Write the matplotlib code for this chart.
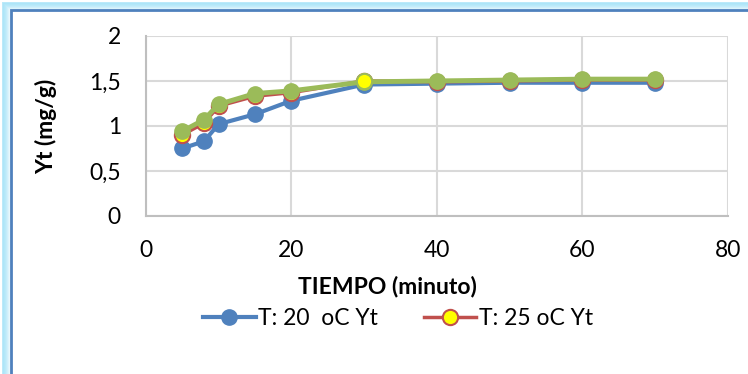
import matplotlib
matplotlib.use("Agg")
import matplotlib.pyplot as plt
from matplotlib.patches import Rectangle

plt.rcParams['font.family'] = ['Lato', 'DejaVu Sans']

# tiempo en minutos y capacidad de adsorcion Yt (mg/g)
tiempo = [5, 8, 10, 15, 20, 30, 40, 50, 60, 70]
yt_20 = [0.75, 0.83, 1.02, 1.13, 1.28, 1.46, 1.47, 1.48, 1.48, 1.48]
yt_25 = [0.90, 1.03, 1.22, 1.33, 1.37, 1.50, 1.49, 1.50, 1.51, 1.51]
yt_30 = [0.94, 1.07, 1.24, 1.36, 1.39, 1.49, 1.50, 1.51, 1.52, 1.52]

x_ticks = [0, 20, 40, 60, 80]
y_ticks = [0, 0.5, 1, 1.5, 2]
y_labels = ['0', '0,5', '1', '1,5', '2']

fig = plt.figure(figsize=(7.48, 3.74), dpi=100)
ax = fig.add_axes([0.195, 0.4225, 0.778, 0.4815])

ax.plot(tiempo, yt_20, color='#4F81BD', lw=3, marker='o', ms=11,
        mfc='#4F81BD', mec='#4F81BD', label='T: 20  oC Yt', zorder=3)
ax.plot(tiempo, yt_25, color='#C0504D', lw=2.5, marker='o', ms=11,
        mfc='#FFFF00', mec='#C0504D', mew=1.5, label='T: 25 oC Yt', zorder=4)
ax.plot(tiempo, yt_30, color='#9BBB59', lw=3.5, marker='o', ms=11,
        mfc='#9BBB59', mec='#9BBB59', label='_T: 30 oC Yt', zorder=5)
# punto resaltado a los 30 minutos
ax.plot(tiempo[5:6], yt_25[5:6], ls='none', marker='o', ms=11,
        mfc='#FFFF00', mec='#9BBB59', mew=1.5, zorder=6)

ax.set_xlim(0, 80)
ax.set_ylim(0, 2)
ax.set_xticks(x_ticks)
ax.set_yticks(y_ticks)
ax.set_yticklabels(y_labels)
ax.tick_params(length=0, labelsize=16.5)
ax.tick_params(axis='x', pad=17)
ax.tick_params(axis='y', pad=18)
ax.grid(True, color='#D9D9D9', lw=1.5)
ax.set_axisbelow(True)
for side in ['top', 'right']:
    ax.spines[side].set_visible(False)
ax.spines['left'].set_color('#BFBFBF')
ax.spines['left'].set_linewidth(1.5)
ax.spines['bottom'].set_color('#BFBFBF')
ax.spines['bottom'].set_linewidth(1.5)

ax.set_xlabel('TIEMPO (minuto)', fontsize=16.5, fontweight='bold', va='center')
ax.xaxis.set_label_coords(0.415, -0.394)
ax.set_ylabel('Yt (mg/g)', fontsize=16.5, fontweight='bold', va='center')
ax.yaxis.set_label_coords(-0.172, 0.5)

ax.legend(loc='center', bbox_to_anchor=(0.433, -0.567), ncol=2,
          frameon=False, fontsize=16.5, handlelength=2.3, handletextpad=0.1,
          columnspacing=2.0, borderpad=0, borderaxespad=0)

# marco azul con brillo del grafico
W, H = 748, 374
for i, a in enumerate([0.10, 0.18, 0.28, 0.38, 0.5, 0.6, 0.7, 0.8]):
    off = 10 - i
    fig.patches.append(Rectangle((off / W, -0.2), 1.3, (H - off) / H + 0.2,
                                 transform=fig.transFigure, fill=False,
                                 ec='#A8E4F8', lw=1.4, alpha=a, zorder=0))
fig.patches.append(Rectangle((11 / W, -0.2), 1.3, (H - 10) / H + 0.2,
                             transform=fig.transFigure, fill=False,
                             ec='#4F81BD', lw=2, zorder=1))

fig.savefig('out.png', dpi=100)
